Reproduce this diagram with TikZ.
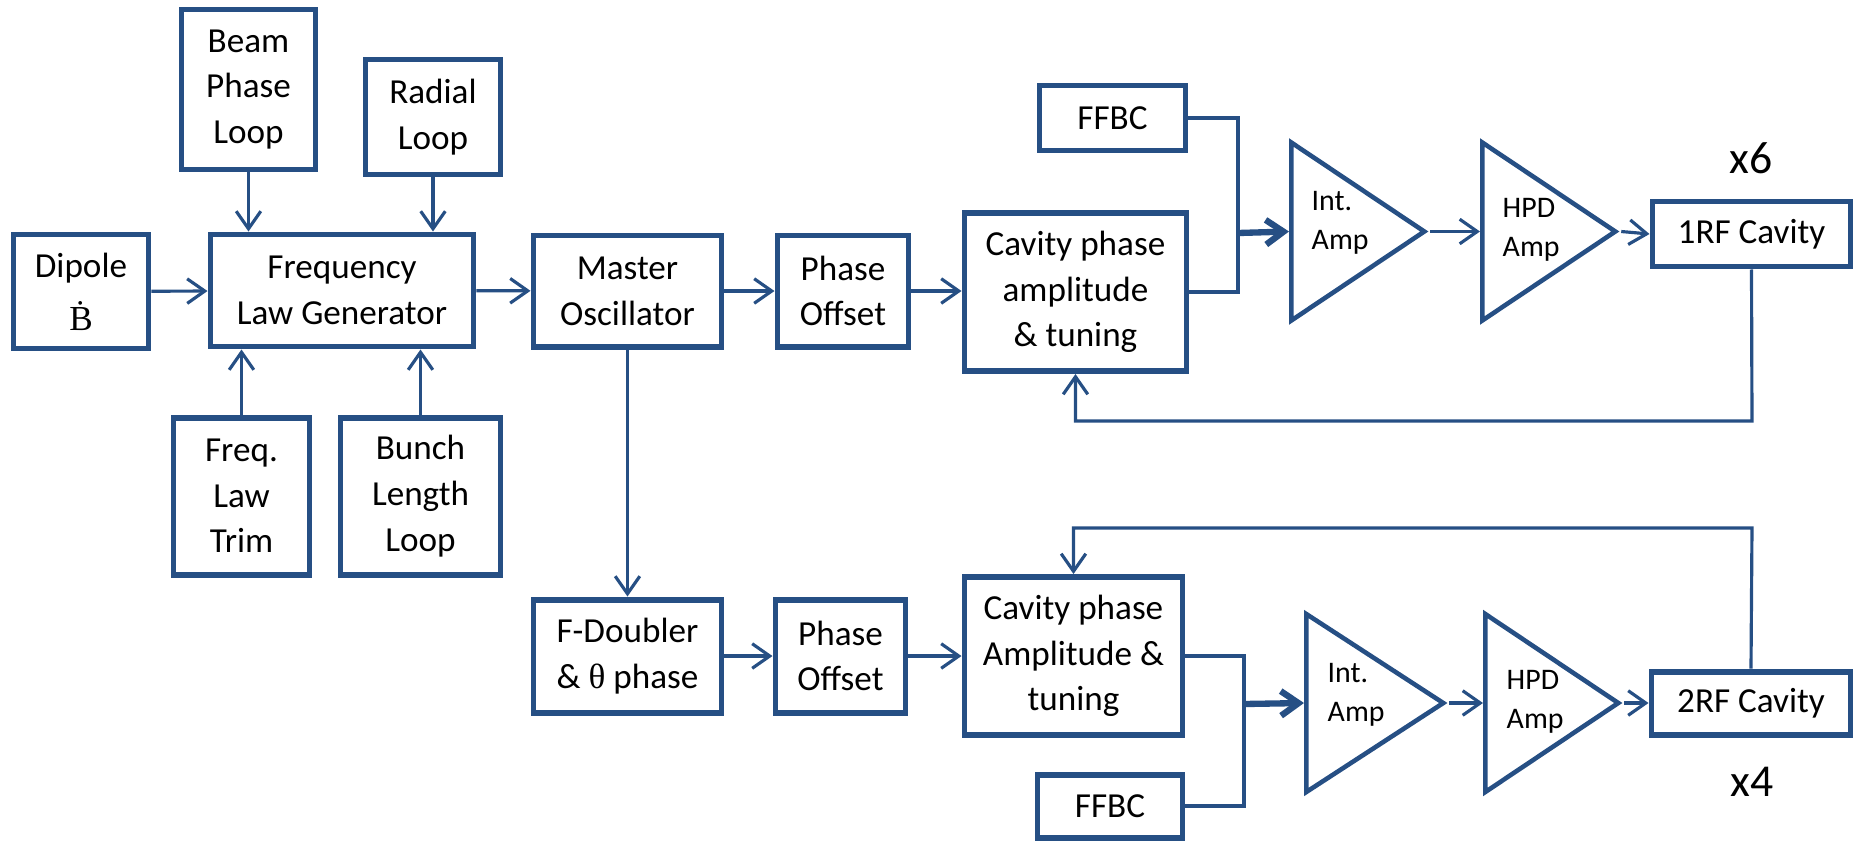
\documentclass[tikz,border=0pt]{standalone}
\usepackage{fontspec}
\setmainfont{Carlito}
\newfontfamily\serifgreek{Liberation Serif}
\usepackage{xcolor}
\usepackage{tikz}
\usetikzlibrary{arrows.meta, positioning, shapes.geometric}
\definecolor{rfblue}{HTML}{264F84}

\begin{document}
\begin{tikzpicture}[>={Straight Barb[length=5pt,width=7pt]},
				block/.style={draw=rfblue, line width=1.7pt, align=center, inner sep=1pt, font=\fontsize{10}{13}\selectfont},
				amp/.style={draw=rfblue, line width=1.3pt, isosceles triangle, isosceles triangle stretches, inner sep=0pt, anchor=lower side, minimum width=1.78cm, minimum height=1.33cm},
				amptext/.style={align=left, inner sep=0pt, anchor=west, font=\fontsize{8.5}{11}\selectfont},
				link/.style={draw=rfblue, line width=0.9pt},
				thicklink/.style={draw=rfblue, line width=1.8pt}]
				\useasboundingbox (0,0) rectangle (18.55,-8.42);
				% frequency law part
				\node at (0.81,-2.915) (dipole) [block, minimum width=1.35cm, minimum height=1.14cm] {Dipole\\[2pt] {\serifgreek Ḃ}};
				\node at (2.485,-0.895) (beam) [block, minimum width=1.34cm, minimum height=1.60cm] {Beam\\ Phase\\ Loop};
				\node at (4.33,-1.17) (radial) [block, minimum width=1.35cm, minimum height=1.15cm] {Radial\\ Loop};
				\node at (3.42,-2.905) (flg) [block, minimum width=2.63cm, minimum height=1.12cm] {Frequency\\ Law Generator};
				\node at (2.415,-4.96) (trim) [block, minimum width=1.36cm, minimum height=1.57cm] {Freq.\\ Law\\ Trim};
				\node at (4.205,-4.96) (bunch) [block, minimum width=1.60cm, minimum height=1.57cm] {Bunch\\ Length\\ Loop};
				\node at (6.275,-2.91) (mo) [block, minimum width=1.88cm, minimum height=1.11cm] {Master\\ Oscillator};
				% upper chain
				\node at (8.43,-2.91) (po1) [block, minimum width=1.31cm, minimum height=1.11cm] {Phase\\ Offset};
				\node at (10.755,-2.92) (cav1) [block, minimum width=2.22cm, minimum height=1.58cm] {Cavity phase\\ amplitude\\ \& tuning};
				\node at (11.125,-1.18) (ffbc1) [block, minimum width=1.46cm, minimum height=0.65cm] {FFBC};
				\node at (12.89,-2.315) (int1) [amp] {};
				\node at (13.11,-2.23) (int1t) [amptext] {Int.\\ Amp};
				\node at (14.80,-2.315) (hpd1) [amp] {};
				\node at (15.02,-2.30) (hpd1t) [amptext] {HPD\\ Amp};
				\node at (17.515,-2.34) (rf1) [block, minimum width=1.98cm, minimum height=0.65cm] {1RF Cavity};
				\node at (17.51,-1.58) (x6) [font=\fontsize{13}{15}\selectfont] {x6};
				% lower chain
				\node at (6.275,-6.56) (fdoub) [block, minimum width=1.88cm, minimum height=1.13cm] {F-Doubler\\ \& {\serifgreek θ} phase};
				\node at (8.405,-6.56) (po2) [block, minimum width=1.30cm, minimum height=1.13cm] {Phase\\ Offset};
				\node at (10.735,-6.56) (cav2) [block, minimum width=2.18cm, minimum height=1.58cm] {Cavity phase\\ Amplitude \&\\ tuning};
				\node at (11.10,-8.06) (ffbc2) [block, minimum width=1.45cm, minimum height=0.63cm] {FFBC};
				\node at (13.04,-7.03) (int2) [amp, minimum height=1.37cm] {};
				\node at (13.27,-6.95) (int2t) [amptext] {Int.\\ Amp};
				\node at (14.83,-7.03) (hpd2) [amp] {};
				\node at (15.06,-7.02) (hpd2t) [amptext] {HPD\\ Amp};
				\node at (17.51,-7.03) (rf2) [block, minimum width=1.99cm, minimum height=0.63cm] {2RF Cavity};
				\node at (17.52,-7.82) (x4) [font=\fontsize{13}{15}\selectfont] {x4};
				\coordinate (j1) at (12.38,-2.33);
				\coordinate (fb1) at (17.52,-4.21);
				\coordinate (j2) at (12.44,-7.04);
				\coordinate (fb2) at (17.52,-5.28);
				\draw[->, link] (dipole) -- (flg);
				\draw[->, link] (beam.south) -- (beam.south |- flg.north);
				\draw[->, link] (radial.south) -- (radial.south |- flg.north);
				\draw[->, link] (trim.north) -- (trim.north |- flg.south);
				\draw[->, link] (bunch.north) -- (bunch.north |- flg.south);
				\draw[->, link] (flg) -- (mo);
				\draw[->, link] (mo) -- (po1);
				\draw[->, link] (po1.east) -- (po1.east -| cav1.west);
				\draw[->, link] (mo) -- (fdoub);
				\draw[->, link] (fdoub) -- (po2);
				\draw[->, link] (po2) -- (cav2);
				\draw[link] (ffbc1.east) -| (j1) |- (cav1.east);
				\draw[->, thicklink] (j1) -- (int1.lower side);
				\draw[->, link] (int1.apex) -- (hpd1.lower side);
				\draw[->, link] (hpd1.apex) -- (rf1.west);
				\draw[->, link] (rf1.south) -- (fb1) -| (cav1.south);
				\draw[link] (cav2.east) -| (j2) |- (ffbc2.east);
				\draw[->, thicklink] (j2) -- (int2.lower side);
				\draw[->, link] (int2.apex) -- (hpd2.lower side);
				\draw[->, link] (hpd2.apex) -- (rf2.west);
				\draw[->, link] (rf2.north) -- (fb2) -| (cav2.north);
			\end{tikzpicture}
\end{document}
